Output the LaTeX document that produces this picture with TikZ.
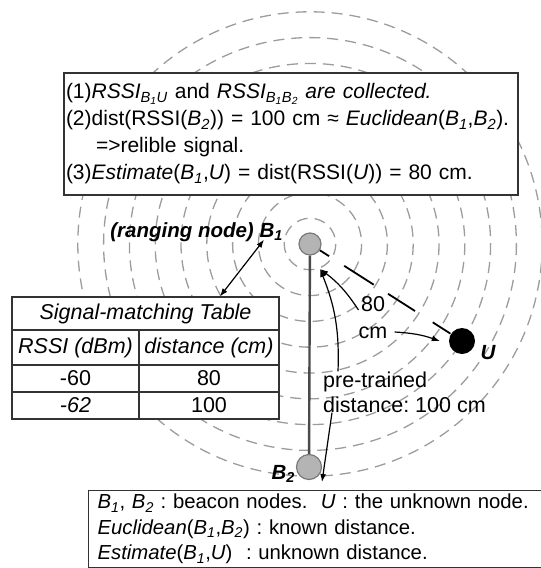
\documentclass[tikz,border=0pt]{standalone}
\usepackage{fontspec}
\setmainfont{Liberation Sans}
\usetikzlibrary{arrows.meta, positioning, calc}

\definecolor{ringgray}{HTML}{9C9C9C}
\definecolor{nodegray}{HTML}{B4B4B4}
\definecolor{edgegray}{HTML}{7A7A7A}
\definecolor{linegray}{HTML}{4A4A4A}

\newcommand{\Bs}[1]{\textit{B}\textsubscript{\textit{#1}}}
\frenchspacing

\begin{document}
\begin{tikzpicture}[
    x=1pt, y=-1pt,
    ring/.style={draw=ringgray, line width=1.3pt, dash pattern=on 11pt off 7pt},
    beacon/.style={circle, draw=edgegray, fill=nodegray, line width=1.2pt, inner sep=0pt},
    box/.style={draw=black!80, line width=1.3pt, fill=white, inner sep=0pt},
    txt/.style={font=\fontsize{21.5}{27}\selectfont, inner sep=0pt, align=left},
    cell/.style={draw=black!80, fill=white, line width=1.2pt, inner sep=0pt},
    lbl/.style={font=\fontsize{20.5}{24}\selectfont\bfseries\itshape, inner sep=0pt},
    arrow/.style={-{Latex[length=8pt, width=6pt]}, line width=1.2pt},
    dblarrow/.style={{Latex[length=8pt, width=6pt]}-{Latex[length=8pt, width=6pt]}, line width=1.2pt},
]
    \useasboundingbox (0,0) rectangle (541,568);

    % Signal rings round B1
    \coordinate (c1) at (310,244);
    \foreach \r in {1,...,9}
        \draw[ring] (c1) circle[radius=25.8*\r];

    % Steps
    \node[box, txt, font=\fontsize{21}{27}\selectfont, minimum width=454pt, minimum height=122pt,
          text width=450pt, inner xsep=2pt] (steps) at (291,134)
        {(1)\textit{RSSI}\textsubscript{\textit{B\textsubscript{1}U}} and \textit{RSSI}\textsubscript{\textit{B\textsubscript{1}B\textsubscript{2}}} \textit{are collected.}\\
         (2)dist(RSSI(\Bs{2})) = 100 cm ≈ \mbox{\textit{Euclidean}(\Bs{1},\Bs{2}).}\\
         \hspace*{30pt}=>relible signal.\\
         (3)\textit{Estimate}(\Bs{1},\textit{U}) = dist(RSSI(\textit{U})) = 80 cm.};

    % Signal-matching table
    \begin{scope}[every node/.append style={font=\fontsize{21.5}{24}\selectfont}]
        \node[cell, minimum width=267pt, minimum height=33pt] (hdr) at (145.5,313.5) {\itshape Signal-matching Table};
        \node[cell, minimum width=127pt, minimum height=35pt] (colrssi) at (75.5,347.5) {\itshape RSSI (dBm)};
        \node[cell, minimum width=140pt, minimum height=35pt] (coldist) at (209,347.5) {\itshape distance (cm)};
        \node[cell, minimum width=127pt, minimum height=27pt] (rssia) at (75.5,378.5) {-60};
        \node[cell, minimum width=140pt, minimum height=27pt] (dista) at (209,378.5) {80};
        \node[cell, minimum width=127pt, minimum height=27pt] (rssib) at (75.5,405.5) {\itshape -62};
        \node[cell, minimum width=140pt, minimum height=27pt] (distb) at (209,405.5) {100};
    \end{scope}

    % Legend
    \node[box, txt, font=\fontsize{20.3}{25.5}\selectfont, anchor=north west, minimum width=470pt, minimum height=77pt,
          text width=452pt, inner xsep=9pt] (legend) at (88,490)
        {\Bs{1}, \Bs{2} : beacon nodes.\ \ \textit{U} : the unknown node.\\
         \textit{Euclidean}(\Bs{1},\Bs{2}) : known distance.\\
         \textit{Estimate}(\Bs{1},\textit{U})\ \ : unknown distance.};

    % Nodes
    \node[beacon, minimum size=22pt] (b1) at (c1) {};
    \node[beacon, minimum size=25pt] (b2) at (309,467) {};
    \node[circle, fill=black, minimum size=26pt, inner sep=0pt] (u) at (462,341) {};

    \node[lbl, anchor=east] (rng) at (283,232) {(ranging node) \Bs{1}};
    \node[lbl, anchor=east] (b2lbl) at (295,474) {\Bs{2}};
    \node[lbl] (ulbl) at (488,353) {\textit{U}};

    \node[txt, align=center] (dist80) at (373,318) {80\\cm};
    \node[txt, font=\fontsize{21.5}{25}\selectfont, anchor=west] (pretrained) at (323,392) {pre-trained\\distance: 100 cm};

    % Connectors
    \coordinate (b1tip) at ($(b1)+(10,25)$);
    \draw[line width=2.4pt, linegray] (b1) -- (b2);
    \draw[line width=1.8pt, dash pattern=on 11pt off 18pt on 35pt off 17pt on 32pt off 21pt on 21pt off 10pt] (b1) -- (u);
    \draw[dblarrow] ([xshift=74.5pt]hdr.north) -- ([xshift=-19pt, yshift=2pt]rng.south east);
    \draw[arrow] ([yshift=8pt]dist80.west) to[bend right=10] (b1tip);
    \draw[arrow] ([xshift=7pt, yshift=-14pt]dist80.east) to[bend left=8] ([xshift=-9pt]u.west);
    \draw[arrow] ([xshift=15pt]pretrained.north west) to[bend right=12] (b1tip);
    \draw[arrow] ([xshift=9pt]pretrained.south west) -- ([xshift=13pt, yshift=-15pt]b2.center);
\end{tikzpicture}
\end{document}
